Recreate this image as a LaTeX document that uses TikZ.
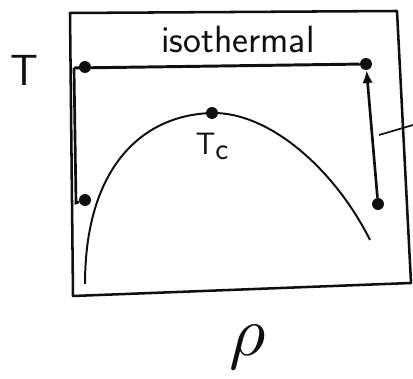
\documentclass[tikz,border=0pt]{standalone}
\usepackage{amsmath}
\usepackage{xcolor}
\usepackage{tikz}
\usetikzlibrary{
  arrows.meta,
  positioning,
  calc
}
\definecolor{inkblack}{RGB}{15,15,15}
\tikzset{
  framepath/.style={draw=inkblack,line width=1.8pt,line join=round},
  isoline/.style={draw=inkblack,line width=2.1pt},
  domecurve/.style={draw=inkblack,line width=1.4pt},
  pathline/.style={draw=inkblack,line width=1.9pt},
  tipline/.style={-{Latex[length=3.2mm,width=2.6mm]},draw=inkblack,line width=1.9pt},
  leader/.style={draw=inkblack,line width=1.2pt},
  statedot/.style={circle,fill=inkblack,inner sep=0pt,minimum size=8.5pt},
  sketchlabel/.style={text=inkblack,inner sep=0pt,font=\sffamily}
}

\begin{document}
\begin{tikzpicture}[x=0.025cm,y=-0.025cm]
  \useasboundingbox (0,0) rectangle (413,379);
  % frame of the phase diagram
  \coordinate (box tl) at (70,13);
  \coordinate (box tr) at (397,11);
  \coordinate (box br) at (411,283);
  \coordinate (box bl) at (73,296);
  \draw[framepath] (box tl) -- (box tr) -- (box br) -- (box bl) -- cycle;
  % states
  \node[statedot] (iso left) at (85,67) {};
  \node[statedot] (iso right) at (366,64) {};
  \node[statedot] (low left) at (85,200) {};
  \node[statedot] (low right) at (378,204) {};
  \node[statedot] (crit) at (212,113) {};
  \coordinate (corner left) at (74,68);
  \coordinate (foot left) at (76,203);
  % coexistence dome
  \coordinate (dome left) at (85,284);
  \coordinate (dome right) at (370,240);
  \draw[domecurve] (dome left) .. controls (85,170) and (140,115) .. (crit.center)
    .. controls (270,112) and (335,170) .. (dome right);
  % paths
  \draw[isoline] (corner left) -- (iso right);
  \draw[pathline] (corner left) -- (foot left) -- (low left);
  \draw[tipline] (low right) -- (iso right);
  \coordinate (leader a) at (379,135);
  \coordinate (leader b) at (413,125);
  \draw[leader] (leader a) -- (leader b);
  % labels
  \node[sketchlabel,font=\sffamily\fontsize{31}{34}\selectfont] (temp) at (24,70) {T};
  \node[sketchlabel,font=\sffamily\fontsize{27}{30}\selectfont,anchor=base] (isolabel) at (238,53) {isothermal};
  \node[sketchlabel,font=\sffamily\fontsize{22}{24}\selectfont,below=10pt of crit] (tclabel) {T\raisebox{-0.35ex}{c}};
  \node[sketchlabel,scale=5] (density) at (248,347) {$\rho$};
\end{tikzpicture}
\end{document}
